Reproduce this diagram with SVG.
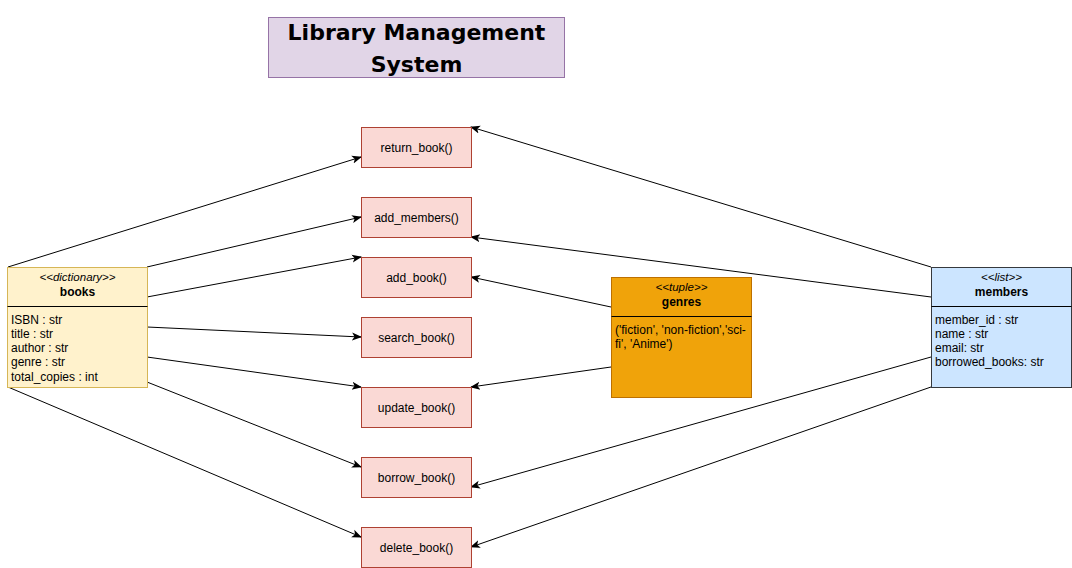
<svg xmlns="http://www.w3.org/2000/svg" width="1072" height="568" viewBox="0 0 1072 568">
<style>
text{font-family:"Liberation Sans",Arial,sans-serif;font-size:12px;fill:#000}
.fn rect{fill:#fad9d5;stroke:#ae4132;stroke-width:1}
.fn text{text-anchor:middle}
.st{font-style:italic;text-anchor:middle;font-size:11.5px}
.nm{font-weight:bold;text-anchor:middle}
.tt{font-family:"DejaVu Sans",Verdana,sans-serif;font-size:22px;font-weight:bold;text-anchor:middle}
.edge{fill:none;stroke:#000;stroke-width:1;marker-end:url(#arr)}
</style>
<defs>
<marker id="arr" viewBox="0 0 10 10" refX="9" refY="5" markerWidth="10" markerHeight="10" markerUnits="userSpaceOnUse" orient="auto">
<path d="M0,1 L10,5 L0,9 L2.5,5 Z" fill="#000"/>
</marker>
</defs>
<rect width="1072" height="568" fill="#fff"/>
<g id="title">
<rect x="268.5" y="17.5" width="296" height="60" fill="#e1d5e7" stroke="#9673a6"/>
<text class="tt" x="416.5" y="40">Library Management</text>
<text class="tt" x="416.5" y="72">System</text>
</g>
<g id="connectors">
<path class="edge" d="M8,267 L361,157"/>
<path class="edge" d="M147,267 L361,217"/>
<path class="edge" d="M147,297 L361,257"/>
<path class="edge" d="M147,327 L361,337"/>
<path class="edge" d="M147,357 L361,387"/>
<path class="edge" d="M147,382 L361,467"/>
<path class="edge" d="M8,387 L361,537"/>
<path class="edge" d="M931,267 L471,127"/>
<path class="edge" d="M931,297 L471,237"/>
<path class="edge" d="M611,307 L471,277"/>
<path class="edge" d="M611,367 L471,387"/>
<path class="edge" d="M931,357 L471,487"/>
<path class="edge" d="M931,387 L471,547"/>
</g>
<g id="return_book" class="fn"><rect x="361.5" y="127.5" width="110" height="40"/><text x="416.5" y="151.5">return_book()</text></g>
<g id="add_members" class="fn"><rect x="361.5" y="197.5" width="110" height="40"/><text x="416.5" y="221.5">add_members()</text></g>
<g id="add_book" class="fn"><rect x="361.5" y="257.5" width="110" height="40"/><text x="416.5" y="281.5">add_book()</text></g>
<g id="search_book" class="fn"><rect x="361.5" y="317.5" width="110" height="40"/><text x="416.5" y="341.5">search_book()</text></g>
<g id="update_book" class="fn"><rect x="361.5" y="387.5" width="110" height="40"/><text x="416.5" y="411.5">update_book()</text></g>
<g id="borrow_book" class="fn"><rect x="361.5" y="457.5" width="110" height="40"/><text x="416.5" y="481.5">borrow_book()</text></g>
<g id="delete_book" class="fn"><rect x="361.5" y="527.5" width="110" height="40"/><text x="416.5" y="551.5">delete_book()</text></g>
<g id="books">
<rect x="7.5" y="267.5" width="140" height="120" fill="#fff2cc" stroke="#d6b656"/>
<line x1="7.5" y1="306.5" x2="147.5" y2="306.5" stroke="#000"/>
<text class="st" x="77.5" y="281">&lt;&lt;dictionary&gt;&gt;</text>
<text class="nm" x="77.5" y="296">books</text>
<text x="11" y="323.5">ISBN : str</text>
<text x="11" y="337.5">title : str</text>
<text x="11" y="352">author : str</text>
<text x="11" y="366">genre : str</text>
<text x="11" y="380.5">total_copies : int</text>
</g>
<g id="genres">
<rect x="611.5" y="277.5" width="140" height="120" fill="#f0a30a" stroke="#bd7000"/>
<line x1="611.5" y1="316.5" x2="751.5" y2="316.5" stroke="#000"/>
<text class="st" x="681.5" y="291">&lt;&lt;tuple&gt;&gt;</text>
<text class="nm" x="681.5" y="306">genres</text>
<text x="615" y="333.5">('fiction', 'non-fiction','sci-</text>
<text x="615" y="347.5">fi', 'Anime')</text>
</g>
<g id="members">
<rect x="931.5" y="267.5" width="140" height="120" fill="#cce5ff" stroke="#36393d"/>
<line x1="931.5" y1="306.5" x2="1071.5" y2="306.5" stroke="#000"/>
<text class="st" x="1001.5" y="281">&lt;&lt;list&gt;&gt;</text>
<text class="nm" x="1001.5" y="296">members</text>
<text x="935" y="323.5">member_id : str</text>
<text x="935" y="337.5">name : str</text>
<text x="935" y="352">email: str</text>
<text x="935" y="366">borrowed_books: str</text>
</g>
</svg>
